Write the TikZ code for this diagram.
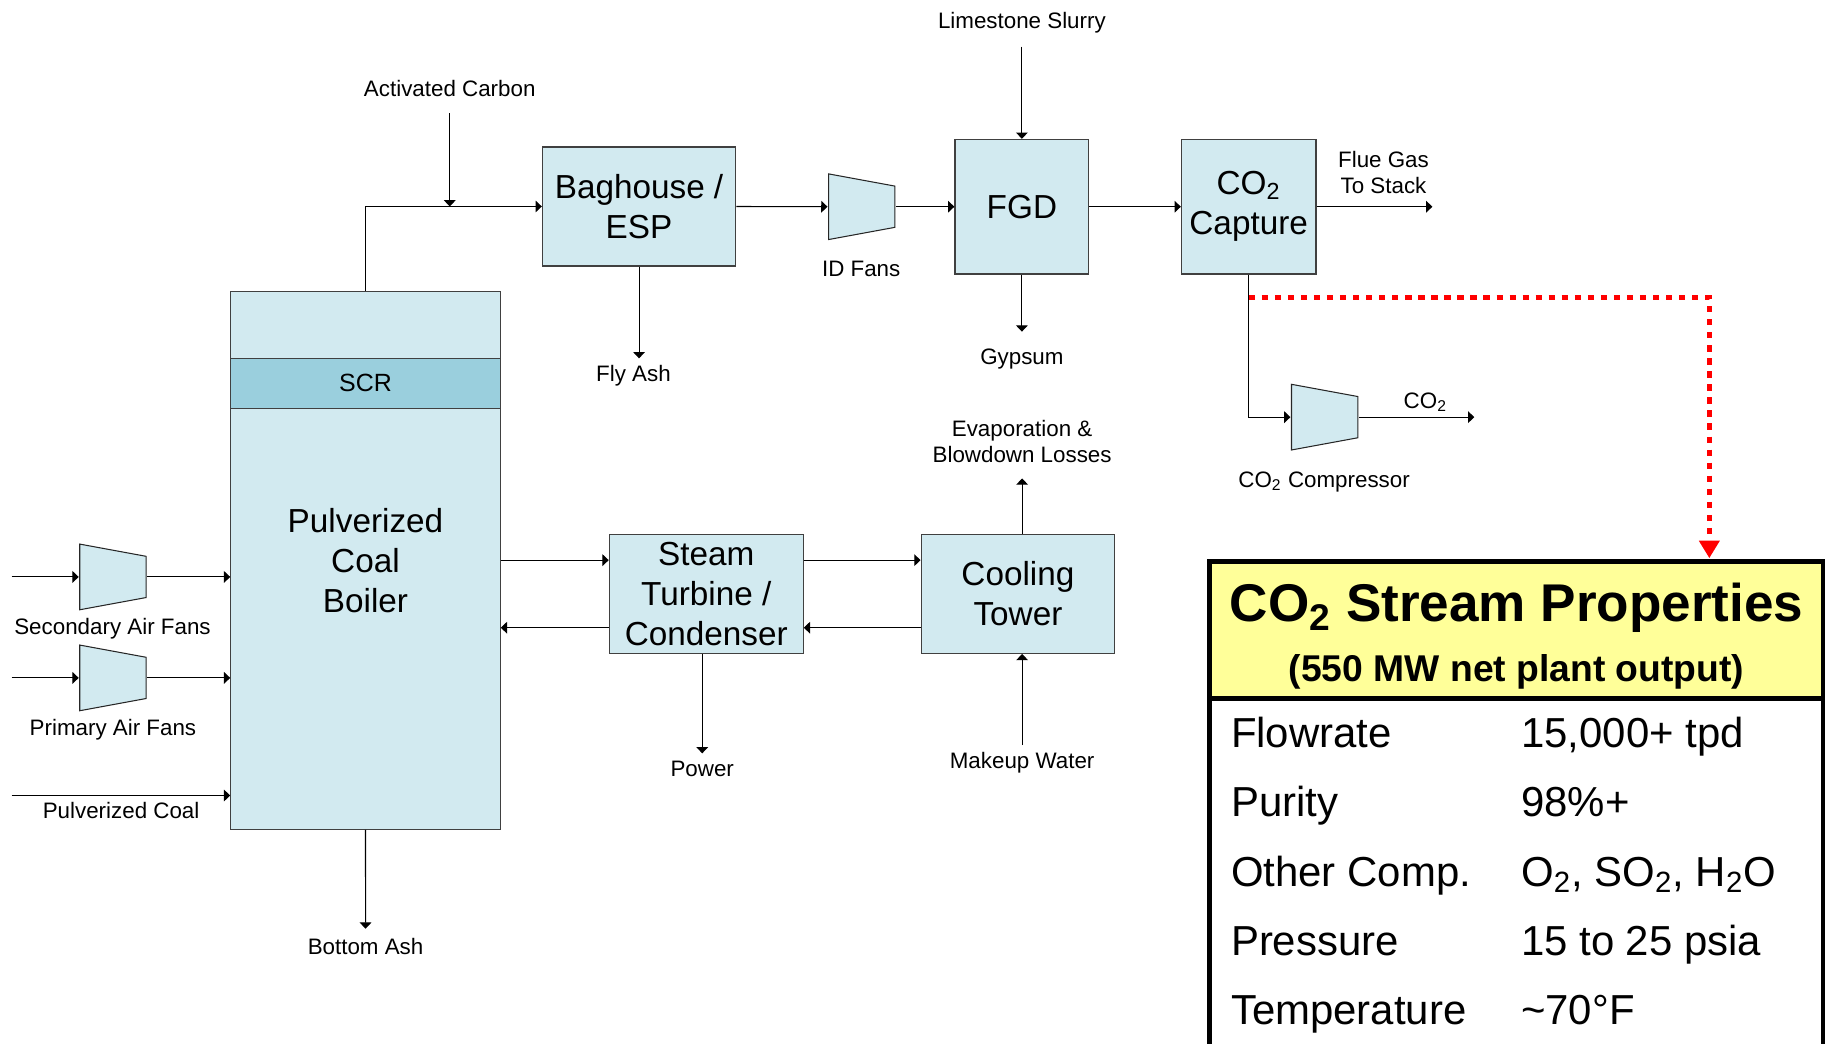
\documentclass[tikz,border=0pt]{standalone}
\usepackage{fontspec}
\setmainfont{Liberation Sans}
\usepackage{tikz}
\usetikzlibrary{arrows.meta}
\definecolor{boxblue}{HTML}{D2EAF0}
\definecolor{scrblue}{HTML}{9ACFDD}
\definecolor{boxedge}{HTML}{404040}
\definecolor{hdryellow}{HTML}{FFFF99}
\definecolor{flagred}{HTML}{FF0000}
\newcommand{\cotwo}{CO\textsubscript{2}}
\newcommand{\lblfont}{\fontsize{9.6}{11.25}\selectfont}
\newcommand{\boxfont}{\fontsize{14.3}{17.2}\selectfont}
\newcommand{\scrfont}{\fontsize{10.7}{12}\selectfont}
\newcommand{\rowfont}{\fontsize{18}{21}\selectfont}
\newcommand{\ttlfont}{\fontsize{22.8}{26}\selectfont\bfseries}
\newcommand{\subttlfont}{\fontsize{16}{19}\selectfont\bfseries}
\tikzset{
	unit/.style={draw=boxedge, line width=0.5pt, fill=boxblue, inner sep=0pt,
		align=center, font=\boxfont},
	lbl/.style={inner sep=0pt, align=center, font=\lblfont},
	fan/.style={minimum width=29pt, minimum height=28.7pt, inner sep=0pt,
		path picture={\draw[fill=boxblue, draw=black!85, line width=0.45pt]
			([shift={(0.25pt,-0.25pt)}]path picture bounding box.north west)
			-- ([shift={(-0.25pt,-5.5pt)}]path picture bounding box.north east)
			-- ([shift={(-0.25pt,5.5pt)}]path picture bounding box.south east)
			-- ([shift={(0.25pt,0.25pt)}]path picture bounding box.south west) -- cycle;}},
	flow/.style={-{Triangle[length=2.7pt,width=5pt]}, line width=0.45pt},
	hot/.style={-{Triangle[length=7.5pt,width=8.5pt]}, draw=flagred, line width=2.2pt,
		dash pattern=on 2.7pt off 2.9pt, shorten >=1.5pt},
	cell/.style={anchor=base west, inner sep=0pt, font=\rowfont},
}

\begin{document}
\begin{tikzpicture}[x=0.5pt, y=-0.5pt]
		\useasboundingbox (0,0) rectangle (1568,896);
		\node[unit, minimum width=115.65pt, minimum height=231pt] (boiler) at (313.85,481) {Pulverized\\Coal\\Boiler};
		\node[unit, fill=scrblue, font=\scrfont, minimum width=115.65pt, minimum height=21.4pt] (scr) at (313.85,329.1) {SCR};
		\node[unit, minimum width=83pt, minimum height=51.1pt] (bag) at (548.75,177.3) {Baghouse /\\ESP};
		\node[fan] (idfan) at (740,177.5) {};
		\node[unit, minimum width=57.5pt, minimum height=57.8pt] (fgd) at (877.5,177.5) {FGD};
		\node[unit, minimum width=57.75pt, minimum height=57.8pt] (cap) at (1072.25,177.5) {\cotwo\\Capture};
		\node[fan] (comp) at (1137.5,358.2) {};
		\node[unit, minimum width=83.25pt, minimum height=51pt] (steam) at (606.45,510) {Steam\\Turbine /\\Condenser};
		\node[unit, minimum width=83.1pt, minimum height=51pt] (cool) at (874.1,510) {Cooling\\Tower};
		\node[fan] (secfan) at (97,495.4) {};
		\node[fan] (primfan) at (97,582.1) {};

		\coordinate (acin) at (386.2,97.3);
		\coordinate (lsin) at (877.5,40);
		\coordinate (faout) at (548.75,307.7);
		\coordinate (gyout) at (877.5,284.8);
		\coordinate (fgout) at (1230,177.5);
		\coordinate (co2out) at (1266,358.2);
		\coordinate (evout) at (877.7,410.8);
		\coordinate (mwin) at (877.7,639.8);
		\coordinate (pwout) at (603,646.9);
		\coordinate (baout) at (313.9,797.5);
		\coordinate (sain) at (9.9,495.4);
		\coordinate (pain) at (9.9,582.1);
		\coordinate (pcin) at (9.9,683.1);
		\coordinate (redknee) at (1467.8,255.2);
		\coordinate (tabfoot) at (1302,912);

		\node[lbl, anchor=base] (acl) at (386.2,83) {Activated Carbon};
		\node[lbl, anchor=base] (lsl) at (877.5,24.3) {Limestone Slurry};
		\node[lbl, anchor=base] (fal) at (544,327.8) {Fly Ash};
		\node[lbl, anchor=base] (idl) at (739.5,237.6) {ID Fans};
		\node[lbl, anchor=base] (gyl) at (877.5,313.4) {Gypsum};
		\node[lbl] (fgl) at (1188,147.9) {Flue Gas\\To Stack};
		\node[lbl, anchor=base] (co2l) at (1224,350.5) {\cotwo};
		\node[lbl, anchor=base] (cpl) at (1137,418.6) {\cotwo{} Compressor};
		\node[lbl] (evl) at (877.7,379) {Evaporation \&\\Blowdown Losses};
		\node[lbl, anchor=base] (mwl) at (877.7,659.8) {Makeup Water};
		\node[lbl, anchor=base] (pwl) at (603,667) {Power};
		\node[lbl, anchor=base] (bal) at (313.9,819.3) {Bottom Ash};
		\node[lbl, anchor=base] (sal) at (96.6,544.8) {Secondary Air Fans};
		\node[lbl, anchor=base] (pal) at (97,631.3) {Primary Air Fans};
		\node[lbl, anchor=base] (pcl) at (104,703.2) {Pulverized Coal};

		\draw[flow] (boiler.north) |- (bag.west);
		\draw[flow] (acin) -- (acin |- bag.west);
		\draw[flow] (bag.east) -- (idfan.west);
		\draw[flow] (idfan.east) -- (fgd.west);
		\draw[flow] (lsin) -- (fgd.north);
		\draw[flow] (fgd.south) -- (gyout);
		\draw[flow] (fgd.east) -- (cap.west);
		\draw[flow] (cap.east) -- (fgout);
		\draw[flow] (cap.south) |- (comp.west);
		\draw[flow] (comp.east) -- (co2out);
		\draw[flow] (bag.south) -- (faout);
		\draw[flow] (sain) -- (secfan.west);
		\draw[flow] (secfan.east) -- (secfan.east -| boiler.west);
		\draw[flow] (pain) -- (primfan.west);
		\draw[flow] (primfan.east) -- (primfan.east -| boiler.west);
		\draw[flow] (pcin) -- (pcin -| boiler.west);
		\draw[flow] (boiler.south) -- (baout);
		\draw[flow] (boiler.east) -- (boiler.east -| steam.west);
		\draw[flow] ([yshift=-14.5pt]steam.west) -- ([yshift=-14.5pt]steam.west -| boiler.east);
		\draw[flow] ([yshift=14.5pt]steam.east) -- ([yshift=14.5pt]cool.west);
		\draw[flow] ([yshift=-14.5pt]cool.west) -- ([yshift=-14.5pt]steam.east);
		\draw[flow] (evout |- cool.north) -- (evout);
		\draw[flow] (mwin) -- (mwin |- cool.south);
		\draw[flow] (pwout |- steam.south) -- (pwout);

		\node[draw, line width=2pt, fill=hdryellow, minimum width=263.45pt, minimum height=58.85pt,
			inner sep=0pt, outer sep=0pt] (props) at (1302.05,541.15) {};
		\draw[line width=2pt] (props.south west) -- (props.south west |- tabfoot)
			(props.south east) -- (props.south east |- tabfoot);
		\node[anchor=base, inner sep=0pt, font=\ttlfont] (ttl) at (1302.4,533.8) {\cotwo{} Stream Properties};
		\node[anchor=base, inner sep=0pt, font=\subttlfont] (subttl) at (1302.2,585.4) {(550 MW net plant output)};
		\node[cell] (flowk) at (1056.7,642) {Flowrate};
		\node[cell] (flowv) at (1305.8,642) {15,000+ tpd};
		\node[cell] (purk) at (1056.7,701.5) {Purity};
		\node[cell] (purv) at (1305.8,701.5) {98\%+};
		\node[cell] (othk) at (1056.7,761) {Other Comp.};
		\node[cell] (othv) at (1305.8,761) {O\textsubscript{2}, SO\textsubscript{2}, H\textsubscript{2}O};
		\node[cell] (presk) at (1056.7,820.5) {Pressure};
		\node[cell] (presv) at (1305.8,820.5) {15 to 25 psia};
		\node[cell] (tempk) at (1056.7,880) {Temperature};
		\node[cell] (tempv) at (1305.8,880) {\textasciitilde70°F};

		\draw[hot] (cap.south |- redknee) -- (redknee) -- (redknee |- props.north);
	\end{tikzpicture}
\end{document}
